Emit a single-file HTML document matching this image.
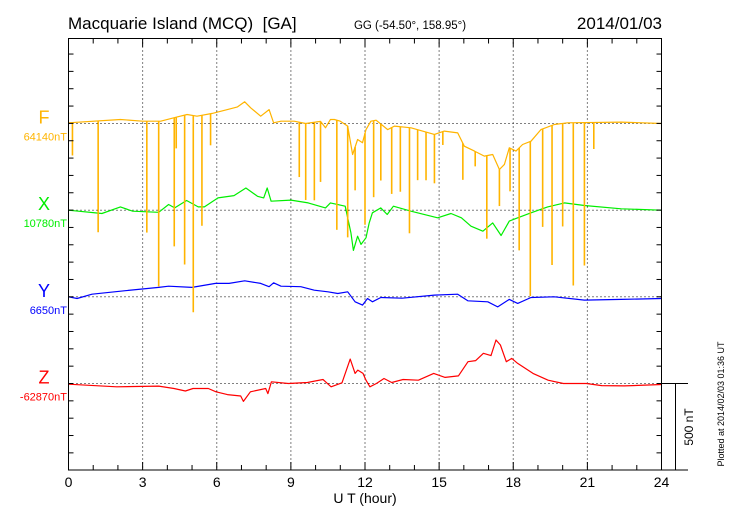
<!DOCTYPE html>
<html><head><meta charset="utf-8">
<style>
html,body{margin:0;padding:0;background:#fff;}
svg{display:block;font-family:"Liberation Sans",sans-serif;}
</style></head>
<body>
<svg id="chart" width="730" height="520" viewBox="0 0 730 520" xmlns="http://www.w3.org/2000/svg">
<rect width="730" height="520" fill="#fff"/>
<text x="68" y="29" font-size="17" fill="#000">Macquarie Island (MCQ)&#160; [GA]</text>
<text x="410" y="29" font-size="11.5" text-anchor="middle" fill="#000">GG (-54.50°, 158.95°)</text>
<text x="662" y="29" font-size="17" text-anchor="end" fill="#000">2014/01/03</text>
<g id="grid"></g>
<g id="series"></g>
<rect x="68.5" y="38.5" width="593" height="431.5" fill="none" stroke="#000" stroke-width="1"/>
<g id="ticks"></g>
<text x="365" y="503" font-size="14" text-anchor="middle" fill="#000">U T (hour)</text>
<g>
<line x1="662" y1="383.5" x2="688" y2="383.5" stroke="#000" stroke-width="1"/>
<line x1="662" y1="470" x2="688" y2="470" stroke="#000" stroke-width="1"/>
<line x1="675.5" y1="383" x2="675.5" y2="470" stroke="#000" stroke-width="1"/>
<text transform="translate(693,427) rotate(-90)" font-size="12" text-anchor="middle" fill="#000">500 nT</text>
</g>
<text transform="translate(724,404) rotate(-90)" font-size="9" text-anchor="middle" fill="#000">Plotted at 2014/02/03 01:36 UT</text>
</svg>
<script>
// ---- data (hours, nT deviation from baseline; positive = up) ----
const xTicks = [0,3,6,9,12,15,18,21,24];
const compNames = ["F","X","Y","Z"];
const compBaseLabels = ["64140nT","10780nT","6650nT","-62870nT"];
const compColors = ["#ffb400","#00ee00","#0000ff","#ff0000"];
const fHours = [0,2.1,3,3.73,4.4,4.8,5.2,5.82,6.43,6.84,7.13,7.38,7.78,8.12,8.3,8.6,9.13,9.6,10.2,10.4,10.6,10.76,11.0,11.3,11.5,11.7,11.9,12.04,12.24,12.45,12.92,13.19,13.86,14.81,15.21,15.75,16.02,16.43,16.83,17.17,17.44,17.64,17.84,18.11,18.38,18.72,19.12,19.66,20.2,22.37,24];
const fVals  = [4,23,13,13,38,52,42,58,80,96,125,90,42,80,4,13,13,0,12,-25,23,23,13,-15,-179,-92,-111,-35,13,19,-35,-15,-25,-63,-44,-54,-131,-159,-188,-179,-265,-236,-140,-159,-121,-102,-35,-6,4,8,0];
const fSpikeHours = [0.16,1.2,3.17,3.65,4.28,4.36,4.7,5.05,5.4,5.75,9.34,9.6,9.95,10.2,10.86,11.3,11.6,12.0,12.35,12.64,13.08,13.43,13.8,14.13,14.47,14.81,15.15,15.96,16.46,16.93,17.44,17.87,18.24,18.69,19.19,19.57,20.0,20.43,20.88,21.26];
const fSpikeDepths = [190,642,642,953,742,180,862,1134,637,182,316,441,450,349,632,642,250,527,441,326,383,375,609,291,278,282,77,211,86,479,211,249,591,891,565,805,594,939,824,153];
const xHours = [0,1.35,2.1,2.6,3.65,4.05,4.3,4.78,5.25,5.5,6.05,6.7,7.18,7.65,7.9,8.04,8.2,9.0,9.7,10.4,10.6,11.2,11.43,11.53,11.7,11.84,12.04,12.17,12.3,12.64,12.9,13.15,13.86,14.94,15.48,15.9,16.29,16.77,17.17,17.51,17.84,18.18,18.72,19.39,20.07,20.88,22.37,24];
const xVals  = [0,-19,19,-6,-12,33,13,56,19,19,71,84,128,80,71,128,52,58,42,13,42,23,-130,-232,-150,-197,-159,-73,-15,13,-25,23,-6,-44,-19,-44,-92,-121,-73,-146,-63,-44,-15,19,42,27,8,0];
const yHours = [0,0.35,0.95,2.3,3.65,4.05,5.0,5.95,6.5,7.13,7.78,8.12,8.3,8.6,9.4,9.95,10.5,10.9,11.3,11.6,11.9,12.1,12.3,12.64,13.5,14.81,15.75,16.16,16.97,17.37,17.84,18.18,18.72,19.66,20.88,22.37,24];
const yVals  = [0,-10,15,35,54,61,54,77,77,92,77,58,81,61,58,38,29,19,29,-29,-48,-10,-29,-4,-8,10,15,-23,-29,-58,-15,-38,-4,0,-19,-15,-10];
const zHours = [0,1.95,3.65,4.27,4.73,5.04,5.66,5.97,6.43,6.97,7.08,7.36,7.98,8.07,8.21,8.9,9.67,10.3,10.63,11.07,11.4,11.6,11.71,11.92,12.04,12.2,12.46,12.77,13.08,13.54,14.16,14.78,15.24,15.78,16.17,16.48,16.79,17.1,17.3,17.48,17.72,17.94,18.18,18.8,19.41,20.03,20.96,21.58,22.5,24];
const zVals  = [-4,-19,-15,-29,-43,-29,-29,-48,-64,-72,-103,-48,-29,-58,10,0,6,23,-19,4,141,58,77,58,19,-19,0,29,6,23,19,58,35,44,126,132,174,161,251,222,126,145,116,58,19,0,0,-12,-14,-6];

// ---- axes ----
const X0=68.5, X1=661.5, YT=38.5, YB=470;
const PX_PER_NT = 86.7/500;
const baselines = [123.5,210.2,296.8,383.5];
function xs(h){return X0+(X1-X0)*h/24;}
function ys(i,v){return baselines[i]-v*PX_PER_NT;}
function interp(hs,vs,h){for(let k=1;k<hs.length;k++){if(h<=hs[k]){const t=(h-hs[k-1])/(hs[k]-hs[k-1]);return vs[k-1]+t*(vs[k]-vs[k-1]);}}return vs[vs.length-1];}

const NS="http://www.w3.org/2000/svg";
const grid=document.getElementById('grid'), ticks=document.getElementById('ticks'), series=document.getElementById('series');
function mk(tag,attrs,parent){const e=document.createElementNS(NS,tag);for(const k in attrs)e.setAttribute(k,attrs[k]);parent.appendChild(e);return e;}

xTicks.forEach(h=>{
  const x=xs(h);
  if(h>0&&h<24){const g=mk('line',{x1:x,y1:YT,x2:x,y2:YB,stroke:'#000','stroke-width':1,'stroke-dasharray':'1,3'},grid);
    
    }
  const t=mk('text',{x:x,y:487,'font-size':14,'text-anchor':'middle',fill:'#000'},ticks);
  t.textContent=String(h);
  
  
});
for(let h=0;h<=24;h++){
  const x=xs(h), len=(h%3===0)?8:5;
  mk('line',{x1:x,y1:YB,x2:x,y2:YB-len,stroke:'#000','stroke-width':1},ticks);
  mk('line',{x1:x,y1:YT,x2:x,y2:YT+len,stroke:'#000','stroke-width':1},ticks);
}
for(let k=-5;k<=20;k++){
  const y=baselines[3]-k*100*PX_PER_NT;
  if(y<YT+2||y>YB-2)continue;
  mk('line',{x1:X0,y1:y,x2:X0+5,y2:y,stroke:'#000','stroke-width':1},ticks);
  mk('line',{x1:X1,y1:y,x2:X1-5,y2:y,stroke:'#000','stroke-width':1},ticks);
}
baselines.forEach((b,i)=>{
  const l=mk('line',{x1:X0,y1:b,x2:X1,y2:b,stroke:'#000','stroke-width':1,'stroke-dasharray':'1,3'},grid);
  
  
  const n=mk('text',{x:44,y:b-0,'font-size':18,'text-anchor':'middle',fill:compColors[i]},ticks);
  n.textContent=compNames[i];
  
  
  const v=mk('text',{x:67,y:b+17,'font-size':11,'text-anchor':'end',fill:compColors[i]},ticks);
  v.textContent=compBaseLabels[i];
  
  
});
const all=[[fHours,fVals],[xHours,xVals],[yHours,yVals],[zHours,zVals]];
all.forEach(([hs,vs],i)=>{
  const pts=hs.map((h,k)=>xs(h).toFixed(1)+','+ys(i,vs[k]).toFixed(1)).join(' ');
  const p=mk('polyline',{points:pts,fill:'none',stroke:compColors[i],'stroke-width':1.2,'stroke-linejoin':'round'},series);
  
  
});
fSpikeHours.forEach((h,k)=>{
  const base=interp(fHours,fVals,h);
  const s=mk('line',{x1:xs(h),y1:ys(0,base),x2:xs(h),y2:ys(0,base-fSpikeDepths[k]),stroke:compColors[0],'stroke-width':1.6},series);
  
  
});
</script>
</body></html>
